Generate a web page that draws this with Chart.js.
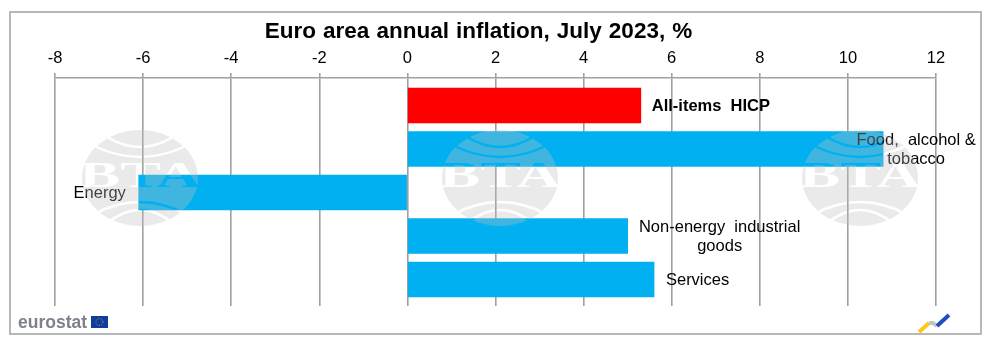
<!DOCTYPE html>
<html>
<head>
<meta charset="utf-8">
<title>Euro area annual inflation</title>
<script src="https://cdn.jsdelivr.net/npm/chart.js@4"></script>
<style>
    body { margin: 0; background: #fff; }
    canvas { display: block; }
</style>
</head>
<body>
<canvas id="chart" width="1000" height="355"></canvas>
<script>
const titleText = 'Euro area annual inflation, July 2023, %';
const categories = ['All-items HICP', 'Food, alcohol & tobacco', 'Energy', 'Non-energy industrial goods', 'Services'];
const values = [5.3, 10.8, -6.1, 5.0, 5.6];
const tickLabels = [-8, -6, -4, -2, 0, 2, 4, 6, 8, 10, 12];
const barColors = ['#ff0000', '#00b0f0', '#00b0f0', '#00b0f0', '#00b0f0'];

// Label wrapping and where each label sits relative to its bar end
const labelLines = [['All-items  HICP'], ['Food,  alcohol &', 'tobacco'], ['Energy'], ['Non-energy  industrial', 'goods'], ['Services']];
const labelShift = [70, 33, -39, 92, 43.5];
const labelFont = ['bold 16.5px "Liberation Sans"', '16.5px "Liberation Sans"', '16.5px "Liberation Sans"', '16.5px "Liberation Sans"', '16.5px "Liberation Sans"'];

// Frame round the whole figure
const framePlugin = {
    id: 'frame',
    beforeDraw(chart) {
        const ctx = chart.ctx;
        ctx.save();
        ctx.fillStyle = '#fff';
        ctx.fillRect(0, 0, chart.width, chart.height);
        ctx.strokeStyle = '#b8b8b8';
        ctx.lineWidth = 2;
        ctx.strokeRect(10, 12, 971, 322);
        ctx.restore();
        ctx.wordSpacing = '0.8px';
    }
};

// Text next to the bars, anchored through the value scale
const barLabelPlugin = {
    id: 'barLabels',
    afterDatasetsDraw(chart) {
        const ctx = chart.ctx;
        const x = chart.scales.x;
        const y = chart.scales.y;
        ctx.save();
        ctx.wordSpacing = '0px';
        ctx.fillStyle = '#000';
        ctx.textAlign = 'center';
        ctx.textBaseline = 'middle';
        labelLines.forEach((lines, i) => {
            const cx = x.getPixelForValue(values[i]) + labelShift[i];
            const cy = y.getPixelForValue(i) + 1;
            ctx.font = labelFont[i];
            lines.forEach((line, n) => {
                ctx.fillText(line, cx, cy + (n - (lines.length - 1) / 2) * 19.5);
            });
        });
        ctx.restore();
    }
};

// BTA watermark: built once off screen, then stamped over the chart
function makeStamp() {
    const c = document.createElement('canvas');
    c.width = 120;
    c.height = 100;
    const g = c.getContext('2d');
    g.fillStyle = 'rgb(194,194,194)';
    g.beginPath();
    g.ellipse(60, 50, 58, 48, 0, 0, Math.PI * 2);
    g.fill();
    g.globalCompositeOperation = 'destination-out';
    g.strokeStyle = '#000';
    g.lineWidth = 2.5;
    // [half width, y at the edge, y in the middle]
    [[33, 9, 19], [48, 17, 29], [48, 87, 74], [33, 95, 82]].forEach(a => {
        g.beginPath();
        g.moveTo(60 - a[0], a[1]);
        g.quadraticCurveTo(60, 2 * a[2] - a[1], 60 + a[0], a[1]);
        g.stroke();
    });
    g.fillStyle = '#000';
    g.font = 'bold 34px "Liberation Serif"';
    g.textAlign = 'center';
    g.textBaseline = 'middle';
    g.save();
    g.translate(60, 50);
    g.scale(1.8, 1.05);
    g.fillText('BTA', 0, 0);
    g.restore();
    return c;
}

const overlayPlugin = {
    id: 'overlay',
    afterDraw(chart) {
        const ctx = chart.ctx;
        const stamp = makeStamp();
        ctx.save();
        ctx.globalAlpha = 0.33;
        [140, 500, 860].forEach(cx => ctx.drawImage(stamp, cx - 60, 128));
        ctx.restore();

        // eurostat logo
        ctx.save();
        ctx.fillStyle = '#7d818e';
        ctx.font = 'bold 17.5px "Liberation Sans"';
        ctx.textBaseline = 'alphabetic';
        ctx.fillText('eurostat', 18, 328);
        ctx.fillStyle = '#0f3d9e';
        ctx.fillRect(91, 316, 17, 12);
        ctx.strokeStyle = '#c9a83a';
        ctx.lineWidth = 1;
        ctx.setLineDash([1, 1.5]);
        ctx.beginPath();
        ctx.arc(99.5, 322, 3.5, 0, Math.PI * 2);
        ctx.stroke();
        ctx.restore();

        // small corner mark
        ctx.save();
        ctx.lineWidth = 4;
        ctx.strokeStyle = '#ffc720';
        ctx.beginPath();
        ctx.moveTo(919, 332);
        ctx.lineTo(929, 323);
        ctx.stroke();
        ctx.strokeStyle = '#c4c4c4';
        ctx.beginPath();
        ctx.moveTo(929, 323);
        ctx.lineTo(933, 323);
        ctx.lineTo(937, 326);
        ctx.stroke();
        ctx.strokeStyle = '#1d4fc0';
        ctx.beginPath();
        ctx.moveTo(937, 326);
        ctx.lineTo(949, 315);
        ctx.stroke();
        ctx.restore();
    }
};

new Chart(document.getElementById('chart'), {
    type: 'bar',
    data: {
        datasets: [{
            data: categories.map((name, i) => ({ x: values[i], y: i })),
            backgroundColor: barColors,
            borderWidth: 0,
            barThickness: 35
        }]
    },
    options: {
        indexAxis: 'y',
        responsive: false,
        animation: false,
        layout: { padding: { top: 19, left: 21, right: 64, bottom: 49 } },
        plugins: {
            legend: { display: false },
            tooltip: { enabled: false },
            title: {
                display: true,
                text: titleText,
                color: '#000',
                font: { family: '"Liberation Sans"', size: 22.5, weight: 'bold', lineHeight: 25 / 22.5 },
                padding: 0
            }
        },
        scales: {
            x: {
                type: 'linear',
                position: 'top',
                min: tickLabels[0],
                max: tickLabels[tickLabels.length - 1],
                afterBuildTicks(scale) {
                    scale.ticks = tickLabels.map(v => ({ value: v }));
                },
                afterFit(scale) {
                    scale.height = 34;
                    scale.paddingLeft = 0;
                    scale.paddingRight = 0;
                },
                grid: { color: '#a0a0a0', lineWidth: 1.6, tickLength: 5 },
                border: { color: '#a0a0a0', width: 1.6 },
                ticks: {
                    color: '#000',
                    maxRotation: 0,
                    autoSkip: false,
                    padding: 5,
                    font: { family: '"Liberation Sans"', size: 16.5 }
                }
            },
            y: {
                type: 'linear',
                reverse: true,
                offset: false,
                min: -0.632,
                max: 4.609,
                afterFit(scale) {
                    scale.width = 34;
                },
                grid: { display: false },
                border: { display: false },
                ticks: { display: false }
            }
        }
    },
    plugins: [framePlugin, barLabelPlugin, overlayPlugin]
});
</script>
</body>
</html>
